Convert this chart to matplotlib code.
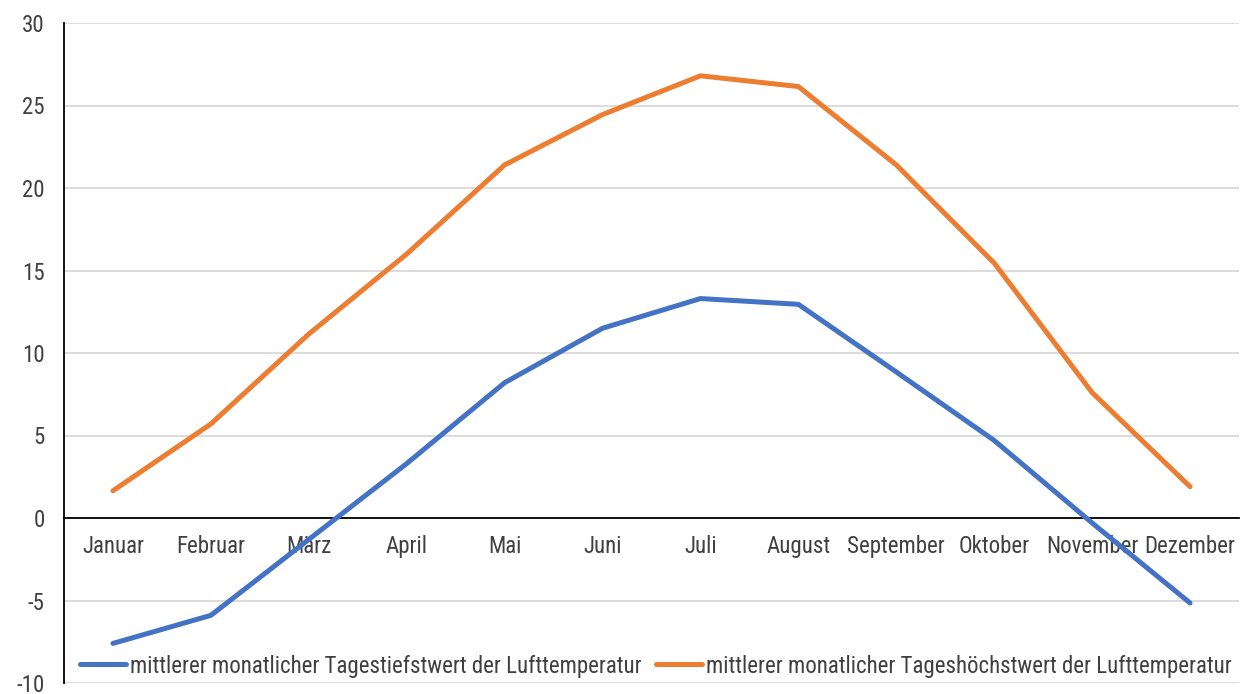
import matplotlib.pyplot as plt

# Monatsdaten
months = ['Januar', 'Februar', 'März', 'April', 'Mai', 'Juni', 'Juli',
          'August', 'September', 'Oktober', 'November', 'Dezember']
t_min = [-7.6, -5.9, -1.3, 3.3, 8.2, 11.5, 13.3, 12.95, 8.85, 4.7, -0.3, -5.15]
t_max = [1.65, 5.7, 11.15, 16.0, 21.4, 24.45, 26.8, 26.15, 21.4, 15.45, 7.6, 1.9]
label_min = 'mittlerer monatlicher Tagestiefstwert der Lufttemperatur'
label_max = 'mittlerer monatlicher Tageshöchstwert der Lufttemperatur'

plt.rcParams['font.family'] = ['Roboto Condensed', 'DejaVu Sans']
plt.rcParams['axes.unicode_minus'] = False
plt.rcParams['text.color'] = '#404040'

fig = plt.figure(figsize=(12.47, 6.94), dpi=100)
ax = fig.add_axes([64 / 1247, 11 / 694, 1175 / 1247, 660 / 694])

x = range(len(months))
ax.plot(x, t_min, color='#4472C4', lw=3.6, label=label_min, solid_capstyle='round', zorder=3)
ax.plot(x, t_max, color='#ED7D31', lw=3.6, label=label_max, solid_capstyle='round', zorder=3)

ax.set_xlim(-0.5, 11.5)
ax.set_ylim(-10, 30)
ax.set_yticks(range(-10, 31, 5))
ax.grid(axis='y', color='#d9d9d9', lw=1.3)
ax.set_axisbelow(True)

ax.set_xticks(list(x))
ax.set_xticklabels(months)
ax.spines['bottom'].set_position(('data', 0))
for s in ['top', 'right']:
    ax.spines[s].set_visible(False)
ax.spines['bottom'].set_color('black')
ax.spines['left'].set_color('black')
ax.spines['bottom'].set_linewidth(1.3)
ax.spines['left'].set_linewidth(1.3)
ax.tick_params(axis='both', length=0, labelsize=16.5, labelcolor='#404040')
ax.tick_params(axis='x', pad=12)
ax.tick_params(axis='y', pad=14)

ax.legend(loc='center', bbox_to_anchor=(656 / 1247, 28 / 694), bbox_transform=fig.transFigure,
          ncol=2, frameon=False, fontsize=16.5, handlelength=2.0, handletextpad=0.2,
          columnspacing=0.6, borderaxespad=0, borderpad=0)

fig.savefig('out.png', dpi=100)
